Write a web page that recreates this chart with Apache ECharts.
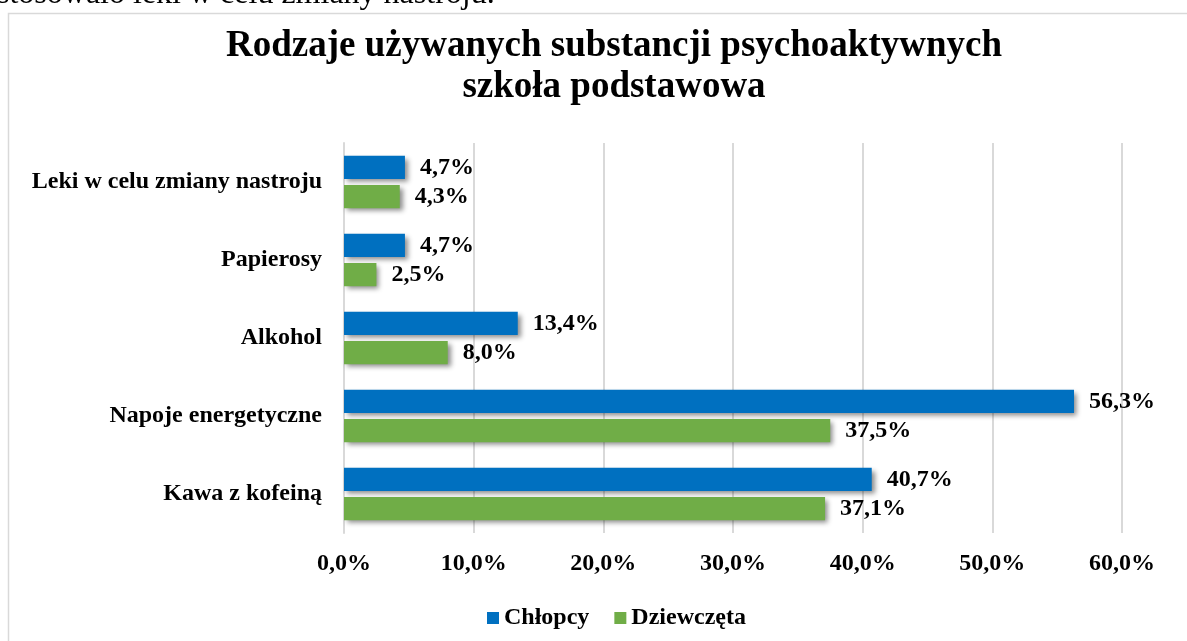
<!DOCTYPE html>
<html>
<head>
<meta charset="utf-8">
<script src="https://cdn.jsdelivr.net/npm/echarts@6/dist/echarts.min.js"></script>
<style>
  html, body { margin: 0; padding: 0; background: #fff; }
  #chart { width: 1187px; height: 641px; }
</style>
</head>
<body>
<div id="chart"></div>
<script>
// Substances, listed top to bottom
const categories = ['Leki w celu zmiany nastroju', 'Papierosy', 'Alkohol', 'Napoje energetyczne', 'Kawa z kofeiną'];
const chlopcy = [4.7, 4.7, 13.4, 56.3, 40.7];
const dziewczeta = [4.3, 2.5, 8.0, 37.5, 37.1];
const seriesNames = ['Chłopcy', 'Dziewczęta'];
const xTicks = [0, 10, 20, 30, 40, 50, 60];

const serif = '"Liberation Serif", "Times New Roman", serif';
const pct = v => Number(v).toFixed(1).replace('.', ',') + '%';

const chart = echarts.init(document.getElementById('chart'), null, { renderer: 'canvas' });

const barShadow = {
  shadowColor: 'rgba(0,0,0,0.45)',
  shadowBlur: 5,
  shadowOffsetX: 3,
  shadowOffsetY: 3
};

const labelStyle = {
  show: true,
  position: 'right',
  distance: 15,
  fontFamily: serif,
  fontWeight: 'bold',
  fontSize: 24,
  color: '#000',
  formatter: p => pct(p.value)
};

chart.setOption({
  animation: false,
  backgroundColor: '#fff',
  graphic: [
    {
      type: 'text',
      x: -3,
      y: -5,
      style: {
        text: 'stosowało leki w celu zmiany nastroju.',
        font: '32px ' + serif,
        fill: '#000',
        verticalAlign: 'middle'
      }
    },
    {
      type: 'rect',
      shape: { x: 8.5, y: 13.5, width: 1200, height: 700 },
      style: { fill: 'none', stroke: '#d9d9d9', lineWidth: 1.5 },
      z: -1
    }
  ],
  title: {
    text: 'Rodzaje używanych substancji psychoaktywnych\nszkoła podstawowa',
    left: 609,
    textAlign: 'center',
    top: 21,
    textStyle: {
      fontFamily: serif,
      fontWeight: 'bold',
      fontSize: 37,
      lineHeight: 41,
      color: '#000'
    }
  },
  legend: {
    bottom: 6,
    left: 482,
    itemWidth: 12,
    itemHeight: 12,
    itemGap: 25,
    icon: 'rect',
    textStyle: { fontFamily: serif, fontWeight: 'bold', fontSize: 24, color: '#000' },
    data: seriesNames
  },
  grid: { left: 344, right: 65, top: 143, bottom: 108, containLabel: false },
  xAxis: {
    type: 'value',
    min: 0,
    max: 60,
    interval: 10,
    axisLine: { show: false },
    axisTick: { show: false },
    splitLine: { lineStyle: { color: '#d9d9d9', width: 2 } },
    axisLabel: {
      margin: 19,
      fontFamily: serif,
      fontWeight: 'bold',
      fontSize: 24,
      color: '#000',
      formatter: v => xTicks.includes(v) ? pct(v) : ''
    }
  },
  yAxis: {
    type: 'category',
    inverse: true,
    data: categories,
    axisLine: { show: true, lineStyle: { color: '#d9d9d9', width: 2 } },
    axisTick: { show: false },
    axisLabel: {
      margin: 22,
      fontFamily: serif,
      fontWeight: 'bold',
      fontSize: 24,
      color: '#000'
    }
  },
  series: [
    {
      name: seriesNames[0],
      type: 'bar',
      data: chlopcy,
      barGap: '26%',
      barCategoryGap: '33%',
      itemStyle: Object.assign({ color: '#0070C0' }, barShadow),
      label: labelStyle
    },
    {
      name: seriesNames[1],
      type: 'bar',
      data: dziewczeta,
      barGap: '26%',
      barCategoryGap: '33%',
      itemStyle: Object.assign({ color: '#70AD47' }, barShadow),
      label: labelStyle
    }
  ]
});
</script>
</body>
</html>
